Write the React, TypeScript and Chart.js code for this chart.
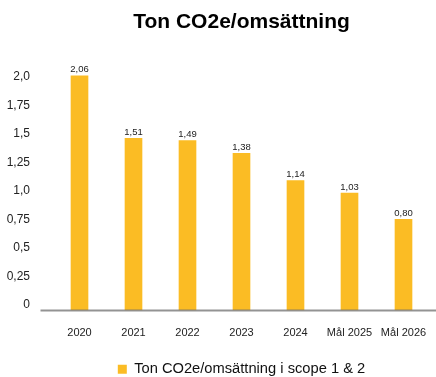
import React, { useEffect, useRef } from 'react';
import { Chart, registerables } from 'chart.js';

Chart.register(...registerables);

const chartTitle = 'Ton CO2e/omsättning';
const seriesName = 'Ton CO2e/omsättning i scope 1 & 2';
const categories = ['2020', '2021', '2022', '2023', '2024', 'Mål 2025', 'Mål 2026'];
const values = [2.06, 1.51, 1.49, 1.38, 1.14, 1.03, 0.8];
const valueLabels = ['2,06', '1,51', '1,49', '1,38', '1,14', '1,03', '0,80'];
const yTickValues = [0, 0.25, 0.5, 0.75, 1.0, 1.25, 1.5, 1.75, 2.0];
const yTickLabels = ['0', '0,25', '0,5', '0,75', '1,0', '1,25', '1,5', '1,75', '2,0'];

const FONT = "'Liberation Sans', Arial, Helvetica, sans-serif";
const BAR_COLOR = '#FBBC24';

const valueLabelPlugin = {
  id: 'valueLabels',
  afterDatasetsDraw(chart: any) {
    const ctx = chart.ctx;
    const meta = chart.getDatasetMeta(0);
    ctx.save();
    ctx.font = `9.5px ${FONT}`;
    ctx.fillStyle = '#222';
    ctx.textAlign = 'center';
    ctx.textBaseline = 'alphabetic';
    meta.data.forEach((el: any, i: number) => {
      ctx.fillText(valueLabels[i], el.x, el.y - 3.5);
    });
    ctx.restore();
  },
};

const axisLinePlugin = {
  id: 'axisLine',
  afterDatasetsDraw(chart: any) {
    const { ctx, chartArea } = chart;
    ctx.save();
    ctx.strokeStyle = 'rgba(105,105,105,0.72)';
    ctx.lineWidth = 2;
    ctx.beginPath();
    ctx.moveTo(chartArea.left - 12, chartArea.bottom + 0.3);
    ctx.lineTo(chart.width, chartArea.bottom + 0.3);
    ctx.stroke();
    ctx.restore();
  },
};

export default function App() {
  const canvasRef = useRef<HTMLCanvasElement | null>(null);

  useEffect(() => {
    if (!canvasRef.current) return;
    const chart = new Chart(canvasRef.current, {
      type: 'bar',
      data: {
        labels: categories,
        datasets: [
          {
            label: seriesName,
            data: values,
            backgroundColor: BAR_COLOR,
            borderWidth: 0,
            barThickness: 17,
          },
        ],
      },
      options: {
        animation: false,
        responsive: true,
        maintainAspectRatio: false,
        layout: { padding: { left: 7, right: 5.5, top: 0, bottom: -9.5 } },
        scales: {
          x: {
            grid: { display: false, drawTicks: false },
            border: { display: false },
            afterFit: (scale: any) => {
              scale.paddingLeft = 0;
              scale.paddingRight = 0;
              scale.height = 41.5;
            },
            ticks: {
              color: '#222',
              font: { family: FONT, size: 11 },
              padding: 16.4,
              maxRotation: 0,
              autoSkip: false,
            },
          },
          y: {
            min: 0,
            max: 2.25,
            grid: { display: false, drawTicks: false },
            border: { display: false },
            afterFit: (scale: any) => {
              scale.width = 45.5;
            },
            ticks: {
              stepSize: 0.25,
              color: '#222',
              font: { family: FONT, size: 12 },
              padding: 22.5,
              labelOffset: -5.5,
              callback: (v: any) => {
                const idx = yTickValues.findIndex((t) => Math.abs(t - Number(v)) < 1e-6);
                return idx >= 0 ? yTickLabels[idx] : '';
              },
            },
          },
        },
        plugins: {
          title: {
            display: true,
            text: chartTitle,
            fullSize: false,
            color: '#000',
            font: { family: FONT, size: 21, weight: 'bold' },
            padding: { top: 10, bottom: 19 },
          },
          legend: {
            display: true,
            position: 'bottom',
            fullSize: false,
            labels: {
              boxWidth: 9,
              boxHeight: 9,
              color: '#111',
              font: { family: FONT, size: 14.7 },
              padding: 10,
            },
          },
          tooltip: { enabled: false },
        },
      },
      plugins: [valueLabelPlugin, axisLinePlugin],
    });
    return () => chart.destroy();
  }, []);

  return (
    <div style={{ position: 'fixed', left: 0, top: 0, width: 436, height: 377 }}>
      <canvas ref={canvasRef} />
    </div>
  );
}
